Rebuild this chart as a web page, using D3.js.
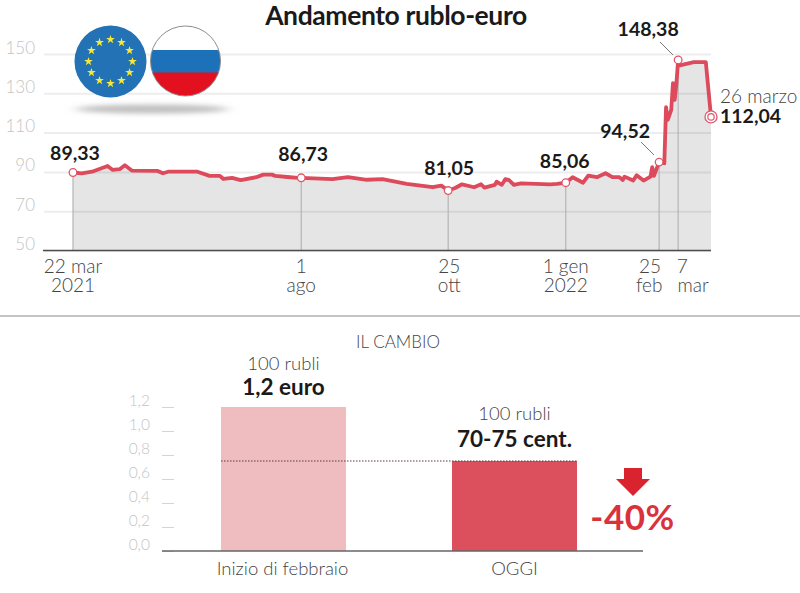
<!DOCTYPE html>
<html>
<head>
<meta charset="utf-8">
<script src="https://cdn.jsdelivr.net/npm/d3@7"></script>
<style>
  html, body { margin: 0; padding: 0; background: #fff; }
  svg { display: block; }
  text { font-family: Lato, sans-serif; }
</style>
</head>
<body>
<svg width="800" height="593"></svg>
<script>
// days since 22 mar 2021, and the rouble-euro value
var days = [0, 5, 11, 20, 23, 27, 30, 34, 49, 52, 55, 72, 79, 85, 87, 92, 97, 106, 110, 115, 117, 124, 130,
    132, 150, 159, 170, 179, 193, 208, 213, 217, 221, 225, 232, 236, 238, 244, 245, 248, 250, 252, 255, 259,
    276, 280, 285, 289, 295, 298, 303, 308, 312, 316, 318, 319, 324, 326, 330, 334, 335, 336, 339,
    342, 343, 344, 346, 347, 348, 349, 350, 351, 359, 366, 369];
var rates = [89.7, 89.3, 90.1, 93, 91, 91.4, 93.4, 90.7, 90.5, 89.3, 90.1, 90.1, 88, 88, 86.4, 87, 85.8, 87.3, 88.6, 88.6, 88, 87.4, 87,
    87, 86.3, 87.3, 86, 86.3, 83.9, 82.2, 83, 80.5, 81.8, 83.7, 82.2, 83.7, 82, 83.4, 85, 83.4, 86.3, 86, 83.4, 84.2,
    83.7, 83.9, 84.5, 87.3, 84.5, 88.1, 87.3, 89.3, 87.3, 87.3, 85.9, 87.6, 85.6, 88.3, 85.6, 87.6, 92.4, 88, 95,
    94.4, 122.9, 116.5, 121.6, 135.2, 126.7, 135, 147, 144.2, 145.9, 145.9, 118];

// marked points: day, label, label centre offset from the point
var markDays = [0, 132, 217, 285, 339, 350];
var markLabels = ['89,33', '86,73', '81,05', '85,06', '94,52', '148,38'];
var markLabelDx = [2, 2, 1, -1, -34, -30];
var markLabelY = [160, 161, 175, 168, 138, 36];

var dateLine1 = ['22 mar', '1', '25', '1 gen', '25', '7'];
var dateLine2 = ['2021', 'ago', 'ott', '2022', 'feb', 'mar'];
var dateDx1 = [0, 0, 1, 0, -9, 4];
var dateDx2 = [0, 0, 1, 0, -10, 15];

var yTicks = [50, 70, 90, 110, 130, 150];

var barNames = ['Inizio di febbraio', 'OGGI'];
var barValues = [1.2, 0.75];
var barTop = ['100 rubli', '100 rubli'];
var barAmount = ['1,2 euro', '70-75 cent.'];
var barColors = ['#efbcc0', '#dc4f5c'];
var barTicks = [0, 0.2, 0.4, 0.6, 0.8, 1.0, 1.2];

var svg = d3.select('svg');
var startDate = new Date(2021, 2, 22);
var toDate = function (d) { return d3.timeDay.offset(startDate, d); };

var x = d3.scaleTime().domain([toDate(0), toDate(369)]).range([73, 711]);
var y = d3.scaleLinear().domain([50, 150]).range([250.5, 54]);
var points = days.map(function (d, i) { return {day: d, rate: rates[i]}; });
var rateAt = function (d) { return rates[days.indexOf(d)]; };

// title
svg.append('text')
    .attr('x', 396).attr('y', 25)
    .attr('text-anchor', 'middle')
    .attr('font-size', 26.5).attr('font-weight', 700)
    .attr('letter-spacing', -0.4)
    .attr('fill', '#1a1a1a')
    .text('Andamento rublo-euro');

// area under the line
var area = d3.area()
    .x(function (d) { return x(toDate(d.day)); })
    .y0(y(50))
    .y1(function (d) { return y(d.rate); });
svg.append('path').attr('d', area(points)).attr('fill', '#e5e5e5');

// grid + y labels
var yAxis = svg.append('g')
    .attr('transform', 'translate(44,0)')
    .call(d3.axisLeft(y).tickValues(yTicks).tickSize(-667).tickPadding(9));
yAxis.select('.domain').remove();
yAxis.selectAll('.tick line')
    .attr('stroke', 'rgba(0,0,0,0.07)')
    .attr('stroke-width', 2);
yAxis.selectAll('.tick text')
    .attr('dy', -1)
    .attr('font-size', 17).attr('font-family', 'Lato').attr('font-weight', 300)
    .attr('fill', '#c4c4c4');

// drop lines
svg.selectAll('.drop').data(markDays).enter().append('line')
    .attr('class', 'drop')
    .attr('x1', function (d) { return x(toDate(d)); })
    .attr('x2', function (d) { return x(toDate(d)); })
    .attr('y1', function (d) { return y(rateAt(d)); })
    .attr('y2', y(50))
    .attr('stroke', '#b4b4b4').attr('stroke-width', 1.2);

// baseline
svg.append('line')
    .attr('x1', 43).attr('x2', 711)
    .attr('y1', y(50)).attr('y2', y(50))
    .attr('stroke', '#4d4d4d').attr('stroke-width', 1.5);

// the line
var line = d3.line()
    .x(function (d) { return x(toDate(d.day)); })
    .y(function (d) { return y(d.rate); });
svg.append('path')
    .attr('d', line(points))
    .attr('fill', 'none')
    .attr('stroke', '#dc4a5c').attr('stroke-width', 3.8)
    .attr('stroke-linejoin', 'round');

// leader lines
svg.append('line').attr('x1', 641).attr('y1', 142).attr('x2', 654).attr('y2', 155)
    .attr('stroke', '#555').attr('stroke-width', 0.8);
svg.append('line').attr('x1', 660).attr('y1', 42).attr('x2', 673).attr('y2', 55)
    .attr('stroke', '#555').attr('stroke-width', 0.8);

// markers
svg.selectAll('.mark').data(markDays).enter().append('circle')
    .attr('class', 'mark')
    .attr('cx', function (d) { return x(toDate(d)); })
    .attr('cy', function (d) { return y(rateAt(d)); })
    .attr('r', 3.8)
    .attr('fill', '#fff')
    .attr('stroke', '#e0566a').attr('stroke-width', 1.3);

// end marker
svg.append('circle')
    .attr('cx', x(toDate(369))).attr('cy', y(rateAt(369)))
    .attr('r', 6).attr('fill', '#fff')
    .attr('stroke', '#e0566a').attr('stroke-width', 1.3);
svg.append('circle')
    .attr('cx', x(toDate(369))).attr('cy', y(rateAt(369)))
    .attr('r', 3.2).attr('fill', '#fff')
    .attr('stroke', '#e0566a').attr('stroke-width', 1.2);

// value labels
svg.selectAll('.val').data(markDays).enter().append('text')
    .attr('class', 'val')
    .attr('x', function (d, i) { return x(toDate(d)) + markLabelDx[i]; })
    .attr('y', function (d, i) { return markLabelY[i]; })
    .attr('text-anchor', 'middle')
    .attr('font-size', 19.5).attr('font-weight', 700)
    .attr('fill', '#1a1a1a')
    .text(function (d, i) { return markLabels[i]; });

svg.append('text')
    .attr('x', 720).attr('y', 103)
    .attr('font-size', 19).attr('font-weight', 300)
    .attr('fill', '#444')
    .text('26 marzo');
svg.append('text')
    .attr('x', 720).attr('y', 123)
    .attr('font-size', 19.5).attr('font-weight', 700)
    .attr('fill', '#1a1a1a')
    .text('112,04');

// date labels, two lines in one text
markDays.forEach(function (d, i) {
    var t = svg.append('text')
        .attr('y', 273)
        .attr('text-anchor', 'middle')
        .attr('font-size', 19).attr('font-weight', 300).attr('fill', '#444');
    t.append('tspan')
        .attr('x', x(toDate(d)) + dateDx1[i])
        .text(dateLine1[i]);
    t.append('tspan')
        .attr('x', x(toDate(d)) + dateDx2[i]).attr('dy', 19)
        .text(dateLine2[i]);
});

// flags
var defs = svg.append('defs');
defs.append('filter').attr('id', 'blur')
    .attr('x', '-20%').attr('y', '-200%').attr('width', '140%').attr('height', '500%')
    .append('feGaussianBlur').attr('stdDeviation', '7 2.5');
defs.append('clipPath').attr('id', 'ruClip')
    .append('circle').attr('cx', 185.5).attr('cy', 61).attr('r', 35);

svg.append('ellipse')
    .attr('cx', 152).attr('cy', 109).attr('rx', 76).attr('ry', 4.5)
    .attr('fill', '#c0c0c0')
    .attr('filter', 'url(#blur)');

var euX = 110.5, euY = 61.5;
svg.append('circle').attr('cx', euX).attr('cy', euY).attr('r', 36).attr('fill', '#2272b5');
var star = d3.symbol().type(d3.symbolStar).size(24);
svg.selectAll('.star').data(d3.range(12)).enter().append('path')
    .attr('class', 'star')
    .attr('d', star)
    .attr('fill', '#f6e836')
    .attr('transform', function (d) {
        var a = d * Math.PI / 6;
        return 'translate(' + (euX + 22 * Math.sin(a)) + ',' + (euY - 22 * Math.cos(a)) + ')';
    });

var ru = svg.append('g').attr('clip-path', 'url(#ruClip)');
ru.append('rect').attr('x', 150).attr('y', 26).attr('width', 72).attr('height', 24).attr('fill', '#fff');
ru.append('rect').attr('x', 150).attr('y', 50).attr('width', 72).attr('height', 23).attr('fill', '#1c71b8');
ru.append('rect').attr('x', 150).attr('y', 72.5).attr('width', 72).attr('height', 25).attr('fill', '#e3101f');
svg.append('circle').attr('cx', 185.5).attr('cy', 61).attr('r', 35)
    .attr('fill', 'none').attr('stroke', '#8c8c8c').attr('stroke-width', 1);

// separator
svg.append('line').attr('x1', 0).attr('x2', 800).attr('y1', 316).attr('y2', 316)
    .attr('stroke', '#8a8a8a').attr('stroke-width', 1);

svg.append('text')
    .attr('x', 398).attr('y', 348)
    .attr('text-anchor', 'middle')
    .attr('font-size', 17).attr('font-weight', 300).attr('fill', '#444')
    .text('IL CAMBIO');

// bars
var yb = d3.scaleLinear().domain([0, 1.2]).range([551, 407]);
var xb = d3.scaleBand().domain(barNames).range([221, 577]).paddingInner(0.459);

var bAxis = svg.append('g')
    .attr('transform', 'translate(174,0)')
    .call(d3.axisLeft(yb).tickValues(barTicks).tickSize(12).tickPadding(12)
        .tickFormat(function (d) { return d3.format('.1f')(d).replace('.', ','); }));
bAxis.select('.domain').remove();
bAxis.selectAll('.tick line').attr('stroke', '#d4d4d4').attr('stroke-width', 1);
bAxis.selectAll('.tick text')
    .attr('dy', -1.5)
    .attr('font-size', 15.5).attr('font-family', 'Lato').attr('font-weight', 300)
    .attr('fill', '#c4c4c4');

svg.selectAll('.bar').data(barNames).enter().append('rect')
    .attr('class', 'bar')
    .attr('x', function (d) { return xb(d); })
    .attr('y', function (d, i) { return yb(barValues[i]); })
    .attr('width', xb.bandwidth())
    .attr('height', function (d, i) { return yb(0) - yb(barValues[i]); })
    .attr('fill', function (d, i) { return barColors[i]; });

svg.append('line')
    .attr('x1', xb(barNames[0])).attr('x2', xb(barNames[1]) + xb.bandwidth())
    .attr('y1', yb(0.75)).attr('y2', yb(0.75))
    .attr('stroke', '#5a3a3e').attr('stroke-width', 1.2)
    .attr('stroke-dasharray', '1.5 1.5');

svg.append('line').attr('x1', 162).attr('x2', 643).attr('y1', yb(0)).attr('y2', yb(0))
    .attr('stroke', '#666').attr('stroke-width', 1.6);

barNames.forEach(function (name, i) {
    var cx = xb(name) + xb.bandwidth() / 2;
    svg.append('text')
        .attr('x', cx).attr('y', yb(barValues[i]) - (i === 0 ? 37 : 41))
        .attr('text-anchor', 'middle')
        .attr('font-size', 18.5).attr('font-weight', 300).attr('fill', '#444')
        .text(barTop[i]);
    svg.append('text')
        .attr('x', cx).attr('y', yb(barValues[i]) - (i === 0 ? 12 : 14))
        .attr('text-anchor', 'middle')
        .attr('font-size', 22.5).attr('font-weight', 700).attr('fill', '#1a1a1a')
        .text(barAmount[i]);
    svg.append('text')
        .attr('x', cx - (i === 0 ? 1 : 0)).attr('y', 575)
        .attr('text-anchor', 'middle')
        .attr('font-size', 18.5).attr('font-weight', 300).attr('fill', '#444')
        .text(name);
});

// arrow and percentage
svg.append('path')
    .attr('d', d3.line()([[624, 468], [642, 468], [642, 479], [650, 479], [633, 496], [616, 479], [624, 479]]) + 'Z')
    .attr('fill', '#d9232e');
svg.append('text')
    .attr('x', 632.5).attr('y', 530)
    .attr('text-anchor', 'middle')
    .attr('font-size', 35).attr('font-weight', 700).attr('letter-spacing', 0.5).attr('fill', '#d9323c')
    .text('-40%');
</script>
</body>
</html>
